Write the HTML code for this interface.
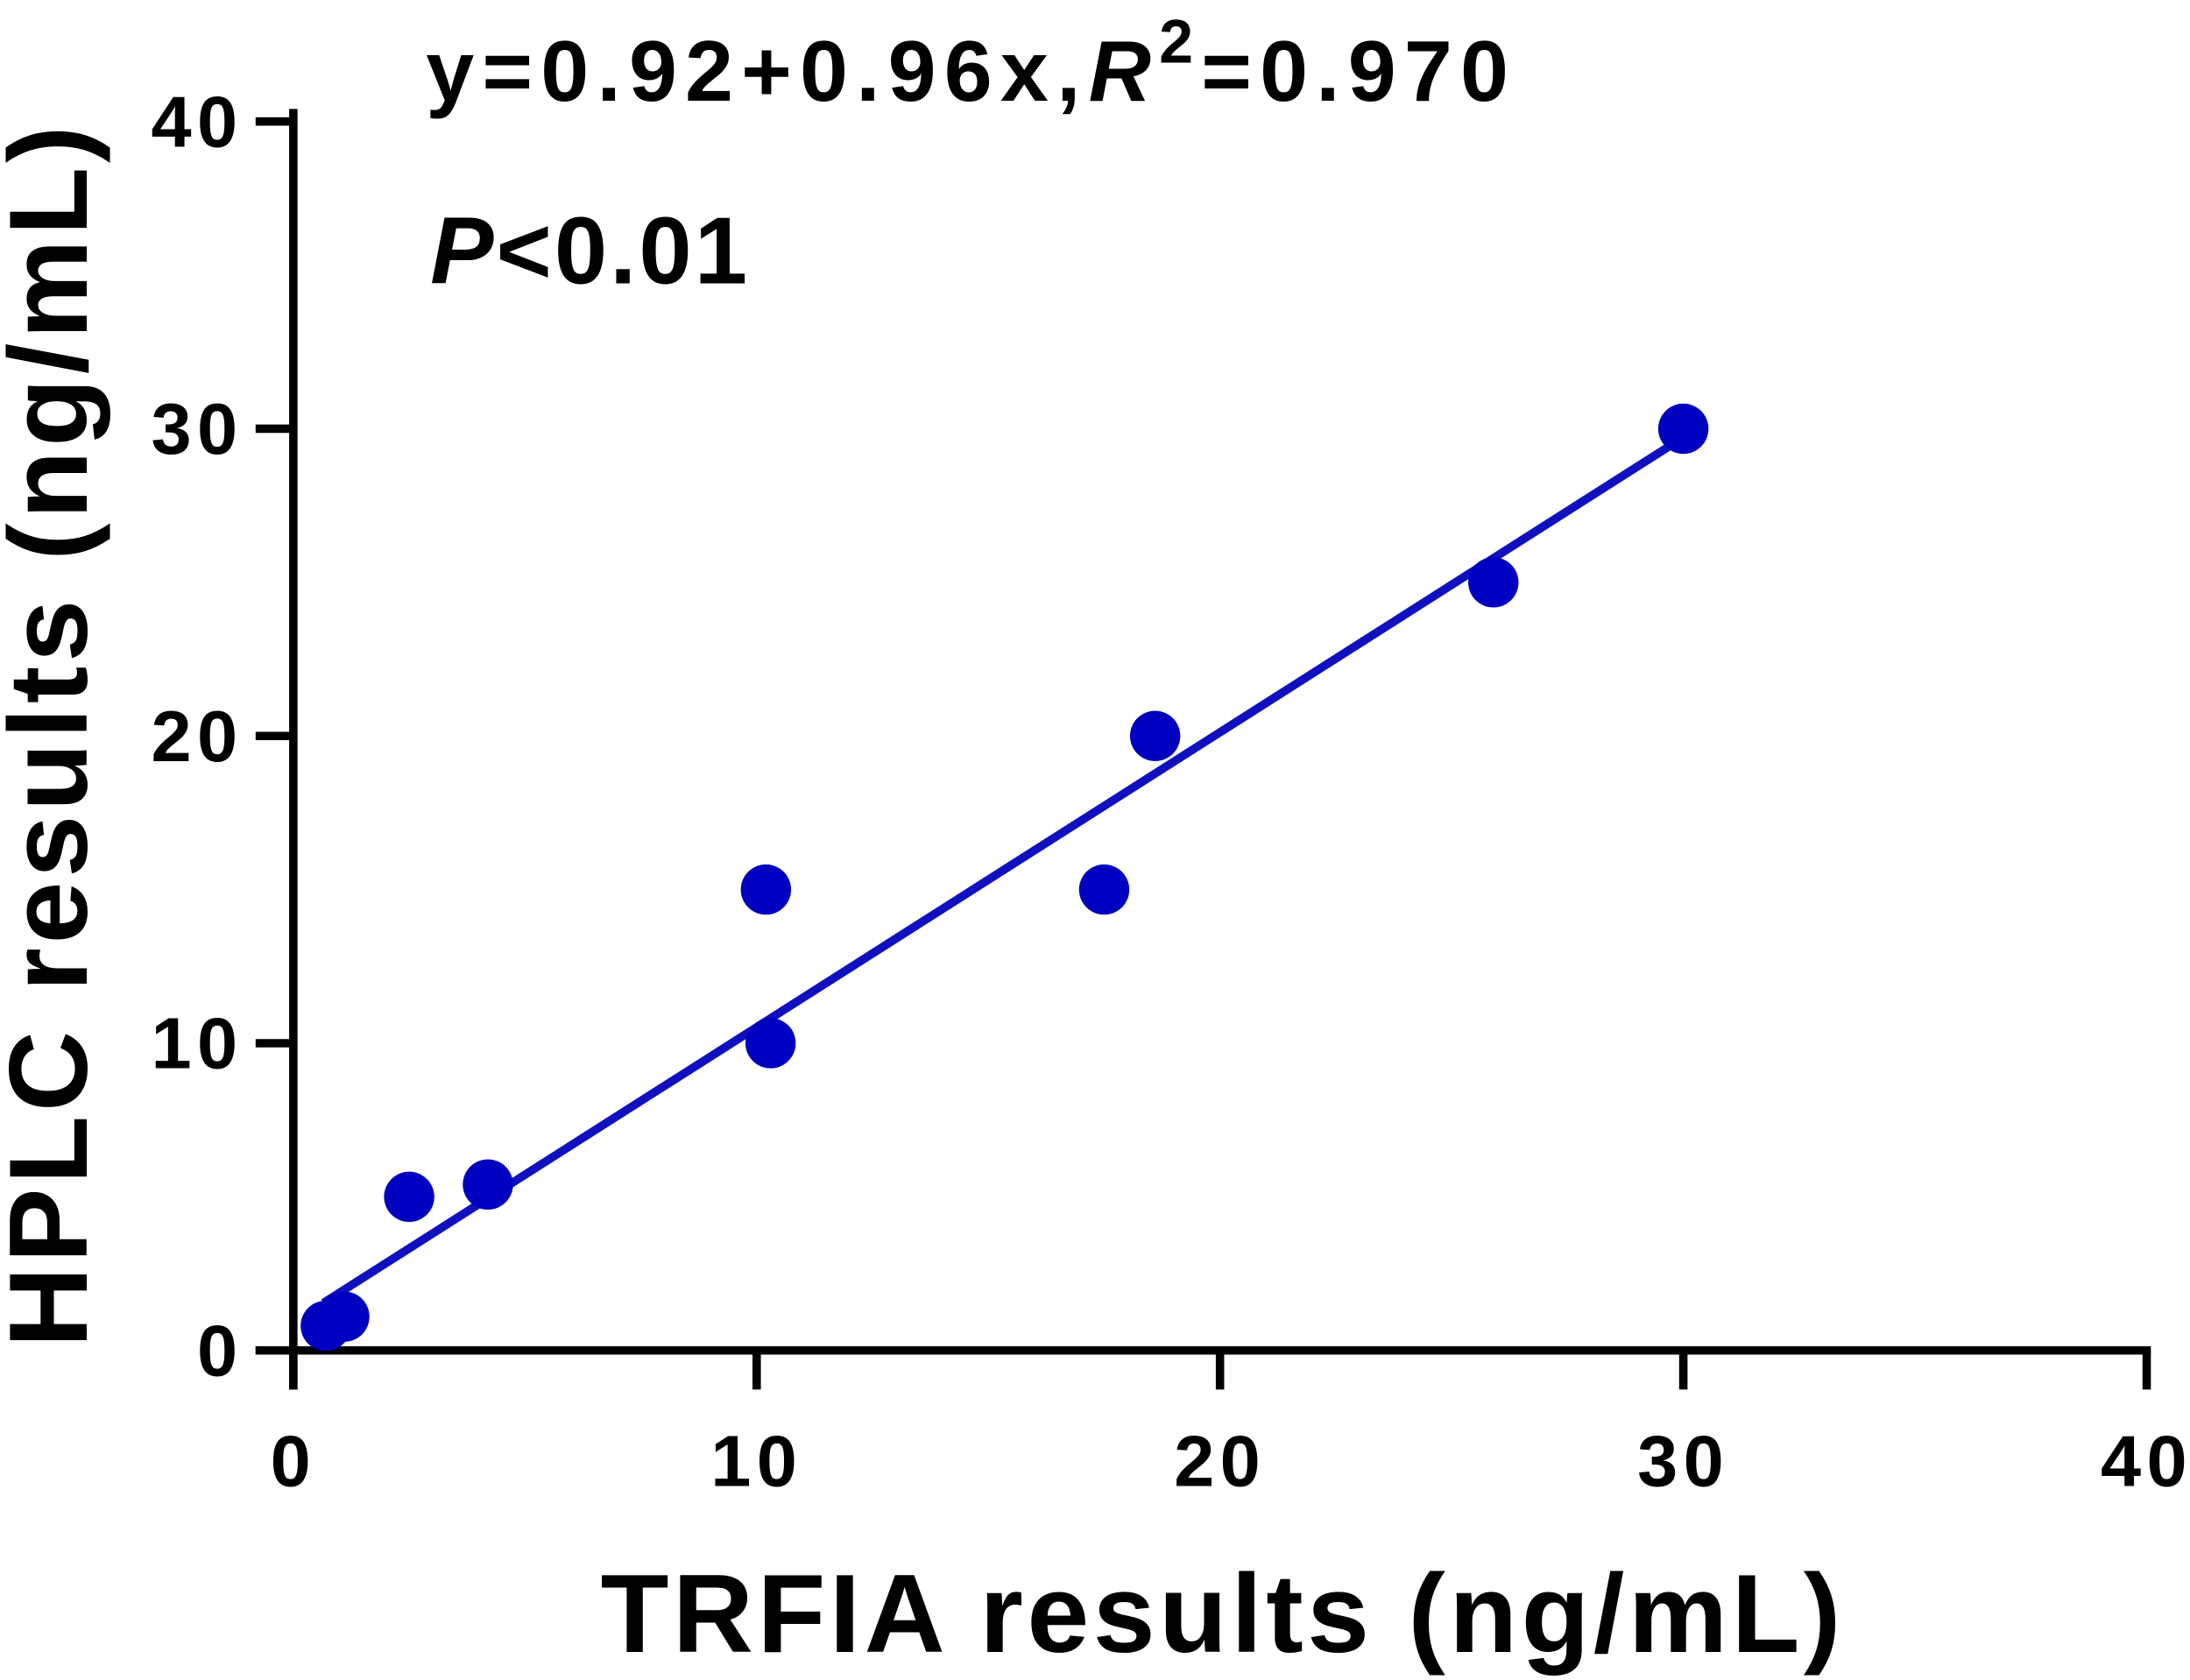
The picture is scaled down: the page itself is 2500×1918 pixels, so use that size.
<!DOCTYPE html>
<html><head><meta charset="utf-8"><style>
html,body{margin:0;padding:0;background:#fff;}
svg{display:block;}
text{font-family:"Liberation Sans",Arial,sans-serif;font-weight:bold;fill:#000;}
</style></head><body>
<svg id="chart" width="2500" height="1918" viewBox="0 0 1568 1203" xmlns="http://www.w3.org/2000/svg">
<g id="axes"></g>
<g id="marks"></g>
<text x="305" y="72" font-size="62" textLength="775" lengthAdjust="spacing">y=0.92+0.96x,<tspan font-style="italic">R</tspan><tspan font-size="44" dy="-27">2</tspan><tspan dy="27">=0.970</tspan></text>
<text x="308" y="203" font-size="68" textLength="227" lengthAdjust="spacing"><tspan font-style="italic">P</tspan>&lt;0.01</text>
<text x="430" y="1183" font-size="80" textLength="888" lengthAdjust="spacing">TRFIA results (ng/mL)</text>
<text x="0" y="0" font-size="80" textLength="875" lengthAdjust="spacing" transform="translate(62,965) rotate(-90)">HPLC results (ng/mL)</text>
</svg>
<script>
const xTicks=[0,10,20,30,40];
const yTicks=[0,10,20,30,40];
const xVals=[0.7,1.1,2.5,4.2,10.2,10.3,17.5,18.6,25.9,30.0];
const yVals=[0.8,1.1,5.0,5.4,15.0,10.0,15.0,20.0,25.0,30.0];
const intercept=0.92, slope=0.96, lineX=[0.65,30.0];
const NS='http://www.w3.org/2000/svg';
const X=v=>210+v*(1537-210)/40;
const Y=v=>967-v*(967-87)/40;
function mk(tag,attrs,parent){const e=document.createElementNS(NS,tag);for(const k in attrs)e.setAttribute(k,attrs[k]);parent.appendChild(e);return e;}
const ax=document.getElementById('axes'), mg=document.getElementById('marks');
let e=mk('line',{x1:X(0),y1:Y(40)-9,x2:X(0),y2:995,stroke:'#000','stroke-width':6},ax);

e=mk('line',{x1:183,y1:Y(0),x2:X(40)+3,y2:Y(0),stroke:'#000','stroke-width':6},ax);

xTicks.forEach(t=>{
 let l=mk('line',{x1:X(t),y1:Y(0),x2:X(t),y2:995,stroke:'#000','stroke-width':6},ax);
 
 let s=mk('text',{x:X(t),y:1064,'font-size':52,'text-anchor':'middle','letter-spacing':4},ax);s.textContent=t;
 
});
yTicks.forEach(t=>{
 let l=mk('line',{x1:183,y1:Y(t),x2:X(0),y2:Y(t),stroke:'#000','stroke-width':6},ax);
 
 let s=mk('text',{x:174,y:Y(t)+18,'font-size':52,'text-anchor':'end','letter-spacing':4},ax);s.textContent=t;
 
});
let rl=mk('line',{x1:X(lineX[0]),y1:Y(intercept+slope*lineX[0]),x2:X(lineX[1]),y2:Y(intercept+slope*lineX[1]),stroke:'#1010c0','stroke-width':6},mg);

xVals.forEach((xv,i)=>{
 let c=mk('circle',{cx:X(xv),cy:Y(yVals[i]),r:18,fill:'#0000c0'},mg);
 
});
</script>
</body></html>
